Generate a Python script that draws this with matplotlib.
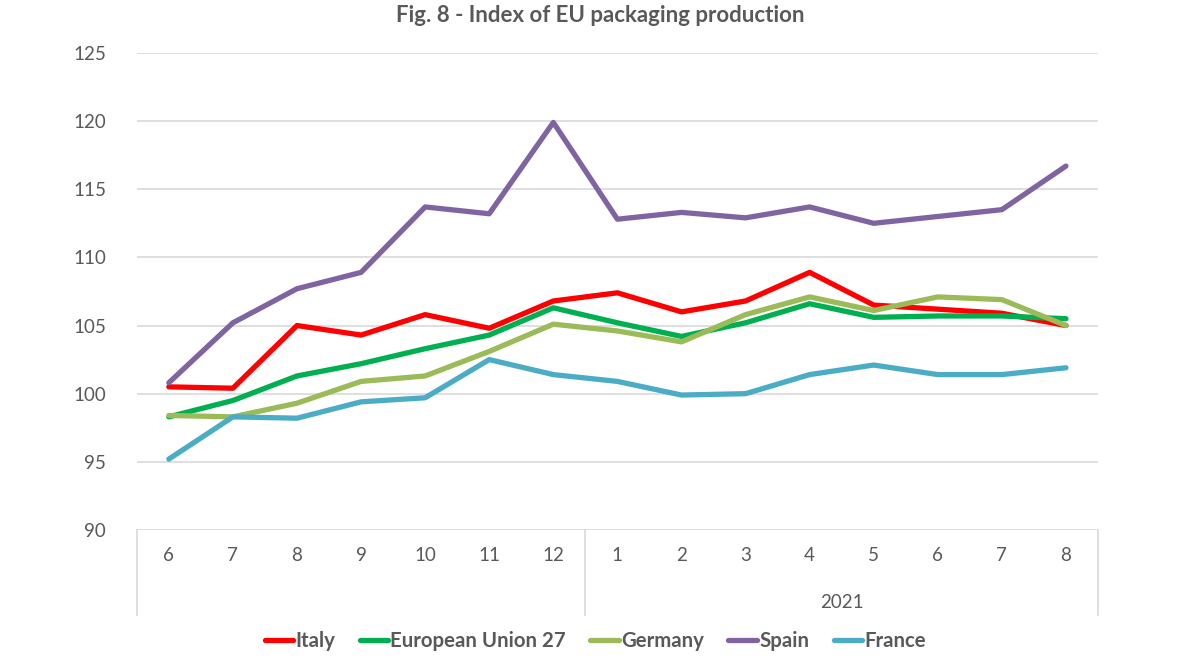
import numpy as np
import matplotlib
matplotlib.use("Agg")
import matplotlib.pyplot as plt
import matplotlib.transforms as mtransforms

plt.rcParams['font.family'] = ['Lato', 'DejaVu Sans']

months = ["6", "7", "8", "9", "10", "11", "12",
          "1", "2", "3", "4", "5", "6", "7", "8"]
year_groups = [("", 0, 6), ("2021", 7, 14)]

italy = [100.5, 100.4, 105.0, 104.3, 105.8, 104.8, 106.8,
         107.4, 106.0, 106.8, 108.9, 106.5, 106.2, 105.9, 105.0]
eu27 = [98.3, 99.5, 101.3, 102.2, 103.3, 104.3, 106.3,
        105.2, 104.2, 105.2, 106.6, 105.6, 105.7, 105.7, 105.5]
germany = [98.4, 98.3, 99.3, 100.9, 101.3, 103.1, 105.1,
           104.6, 103.8, 105.8, 107.1, 106.1, 107.1, 106.9, 105.0]
spain = [100.8, 105.2, 107.7, 108.9, 113.7, 113.2, 119.9,
         112.8, 113.3, 112.9, 113.7, 112.5, 113.0, 113.5, 116.7]
france = [95.2, 98.3, 98.2, 99.4, 99.7, 102.5, 101.4,
          100.9, 99.9, 100.0, 101.4, 102.1, 101.4, 101.4, 101.9]

series = [("Italy", italy, "#ff0000"),
          ("European Union 27", eu27, "#00b050"),
          ("Germany", germany, "#9bbb59"),
          ("Spain", spain, "#8064a2"),
          ("France", france, "#4bacc6")]

grid_col = "#d9d9d9"
text_col = "#595959"

fig = plt.figure(figsize=(12, 6.7), dpi=100)
ax = fig.add_axes([0.114, 0.209, 0.801, 0.712])

x = np.arange(len(months))
for name, vals, col in series:
    ax.plot(x, vals, color=col, lw=3.8, label=name,
            solid_capstyle="round", solid_joinstyle="round")

ax.set_xlim(-0.5, len(months) - 0.5)
ax.set_ylim(90, 125)
ax.set_yticks(np.arange(90, 126, 5))
ax.yaxis.grid(True, color=grid_col, lw=1.2)
ax.set_axisbelow(True)
for s in ax.spines.values():
    s.set_visible(False)
ax.tick_params(axis="y", length=0, pad=22, labelsize=13.5, labelcolor=text_col)
ax.set_xticks(x)
ax.set_xticklabels(months)
ax.tick_params(axis="x", length=0, pad=12, labelsize=13.5, labelcolor=text_col)

# multi-level category axis separators
trans = mtransforms.blended_transform_factory(ax.transData, ax.transAxes)
depth = -(615 - 530) / 477
for xs in [-0.5, 6.5, len(months) - 0.5]:
    ax.plot([xs, xs], [0, depth], color=grid_col, lw=1.2,
            transform=trans, clip_on=False)
for label, a, b in year_groups:
    if label:
        ax.text((a + b) / 2, -(603 - 530) / 477, label, transform=trans,
                ha="center", va="center", fontsize=13.5, color=text_col)

fig.text(0.5, 1 - 15 / 670, "Fig. 8 - Index of EU packaging production",
         ha="center", va="center", fontsize=16, fontweight="bold", color=text_col)

leg = fig.legend(loc="center", bbox_to_anchor=(0.496, 1 - 641 / 670), ncol=5,
                 frameon=False, handlelength=1.4, handletextpad=0.1,
                 columnspacing=1.2, prop={"size": 14.7, "weight": "bold"})
for t in leg.get_texts():
    t.set_color(text_col)

fig.savefig("out.png", dpi=100, facecolor="white")
